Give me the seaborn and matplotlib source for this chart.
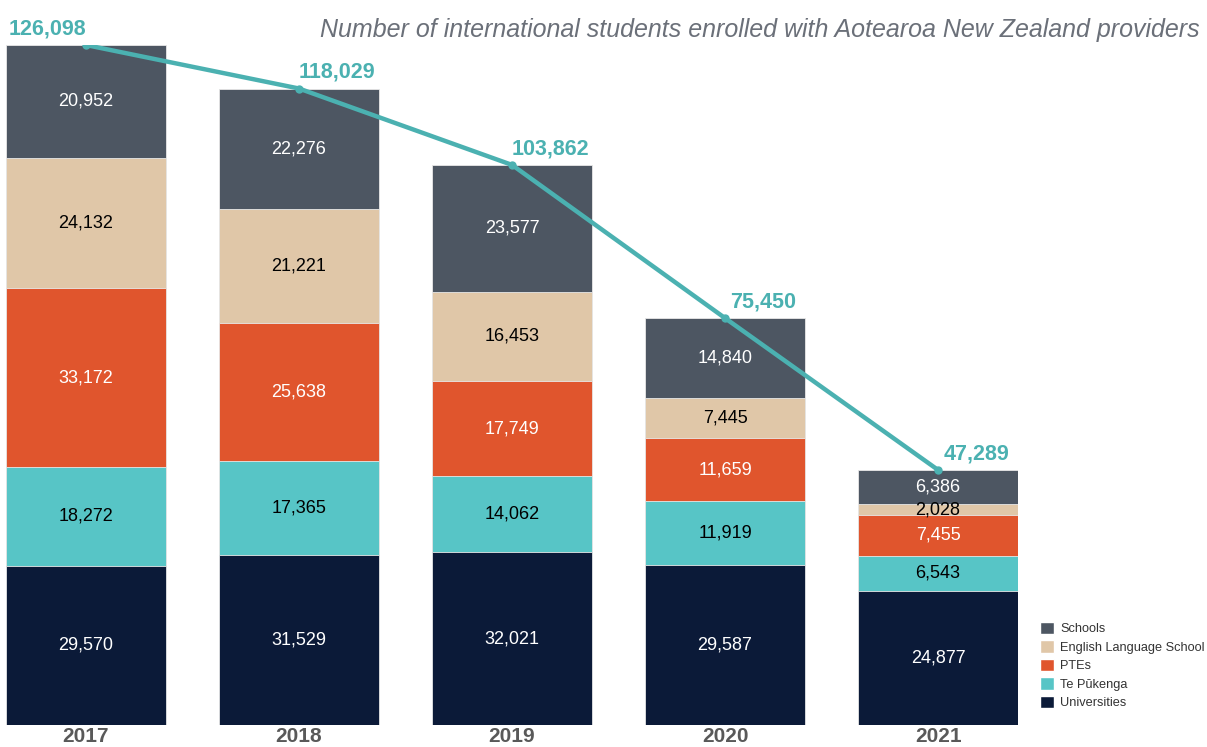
import numpy as np
import pandas as pd
import matplotlib
matplotlib.use('Agg')
import matplotlib.pyplot as plt
from matplotlib.patches import Patch
import seaborn as sns

years = ['2017', '2018', '2019', '2020', '2021']
universities = [29570, 31529, 32021, 29587, 24877]
te_pukenga = [18272, 17365, 14062, 11919, 6543]
ptes = [33172, 25638, 17749, 11659, 7455]
english = [24132, 21221, 16453, 7445, 2028]
schools = [20952, 22276, 23577, 14840, 6386]
totals = [126098, 118029, 103862, 75450, 47289]

# bottom to top
layers = [
    ('Universities', universities, '#0b1a38', 'white'),
    ('Te Pūkenga', te_pukenga, '#57c5c6', 'black'),
    ('PTEs', ptes, '#e0552d', 'white'),
    ('English Language School', english, '#e0c7a8', 'black'),
    ('Schools', schools, '#4d5662', 'white'),
]

sns.set_style('white')
plt.rcParams['font.family'] = ['Liberation Sans', 'DejaVu Sans']

fig = plt.figure(figsize=(12.07, 7.47), dpi=100)
ax = fig.add_axes([6 / 1207, 22 / 747, 1012 / 1207, 680 / 747])

data = pd.DataFrame({'year': years})
cum = np.zeros(len(years))
cums = []
for name, vals, col, tc in layers:
    prev = cum.copy()
    cum = cum + np.array(vals)
    cums.append((prev, cum.copy(), vals, tc))

# draw cumulative heights from tallest down so each layer covers the next
for (name, vals, col, tc), (prev, top, _, _) in reversed(list(zip(layers, cums))):
    data['h'] = top
    sns.barplot(data=data, x='year', y='h', color=col, width=0.75, ax=ax,
                edgecolor='#e8e8e8', linewidth=0.6, saturation=1)

for prev, top, vals, tc in cums:
    for i, v in enumerate(vals):
        ax.text(i, (prev[i] + top[i]) / 2, f'{v:,}', ha='center', va='center',
                fontsize=13, color=tc)

line_col = '#4bb1b1'
sns.lineplot(x=np.arange(len(years)), y=totals, ax=ax, color=line_col, linewidth=3.2,
             marker='o', markersize=6, markeredgewidth=0)
for i, t in enumerate(totals):
    dx = -0.18 if i == 0 else 0.18
    ax.annotate(f'{t:,}', (i, t), xytext=(dx * 213 * 0.72, 4), textcoords='offset points',
                ha='center', va='bottom', fontsize=15.5, fontweight='bold', color=line_col,
                annotation_clip=False)

ax.set_xlim(-0.375, 4.375)
ax.set_ylim(0, 126098)
ax.set_xlabel('')
ax.set_ylabel('')
ax.set_yticks([])
ax.tick_params(axis='x', length=0, pad=1.5)
for lbl in ax.get_xticklabels():
    lbl.set_fontsize(15)
    lbl.set_fontweight('bold')
    lbl.set_color('#595959')
sns.despine(ax=ax, left=True, bottom=True)

fig.text(1200 / 1207, 1 - 30 / 747, 'Number of international students enrolled with Aotearoa New Zealand providers',
         ha='right', va='center', fontsize=18, style='italic', color='#6b7079')

handles = [Patch(facecolor=col, label=name) for name, vals, col, tc in reversed(layers)]
fig.legend(handles=handles, loc='lower left', bbox_to_anchor=(1028 / 1207, 26 / 747),
           frameon=False, fontsize=9.2, handlelength=1.1, handleheight=1.1,
           handletextpad=0.5, labelspacing=0.4, labelcolor='#333333')

fig.savefig('out.png', dpi=100)
